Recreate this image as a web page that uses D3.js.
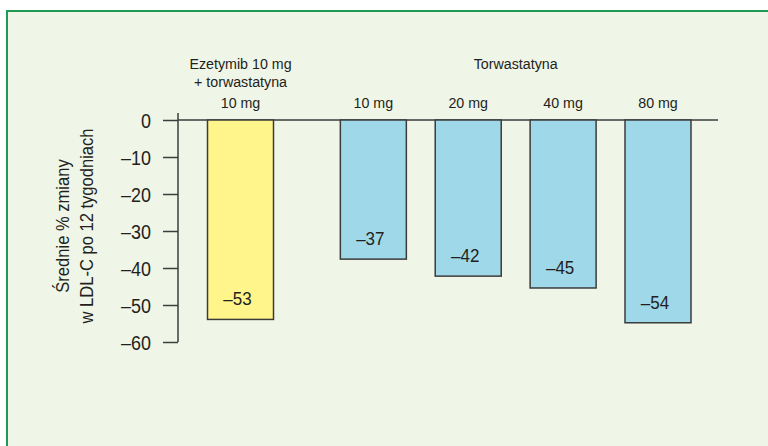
<!DOCTYPE html>
<html>
  <head>
    <meta charset="utf-8" />
    <title>LDL-C</title>
    <style>
      body {
        margin: 0;
        background: #fff;
      }
      svg text {
        font-family: "Liberation Sans", Arial, sans-serif;
        fill: #231f20;
      }
    </style>
    <script src="https://d3js.org/d3.v7.min.js"></script>
  </head>
  <body>
    <div id="chart"></div>
    <script>
      // data
      var doses = ["10 mg", "10 mg", "20 mg", "40 mg", "80 mg"];
      var groups = ["combo", "statin", "statin", "statin", "statin"];
      var values = [-53.9, -37.6, -42.2, -45.4, -54.8];
      var valueLabels = ["–53", "–37", "–42", "–45", "–54"];
      var yTicks = [0, -10, -20, -30, -40, -50, -60];
      var comboLabel = ["Ezetymib 10 mg", "+ torwastatyna"];
      var statinLabel = "Torwastatyna";
      var yTitle = ["Średnie % zmiany", "w LDL-C po 12 tygodniach"];

      var width = 768, height = 446;
      var K = 0.92; // squeeze text to look like a condensed face

      var svg = d3.select("#chart").append("svg")
        .attr("width", width)
        .attr("height", height);

      // helper: text at x,y, horizontally squeezed
      function label(x, y, str, size, rot) {
        return svg.append("text")
          .attr("transform", "translate(" + x + "," + y + ")" + (rot ? " rotate(" + rot + ")" : "") + " scale(" + K + ",1)")
          .attr("text-anchor", "middle")
          .attr("font-size", size)
          .text(str);
      }

      // panel
      svg.append("rect")
        .attr("x", 7).attr("y", 11)
        .attr("width", width + 10).attr("height", height + 10)
        .attr("fill", "#eff5e7")
        .attr("stroke", "#1f9a55")
        .attr("stroke-width", 2);

      var y = d3.scaleLinear().domain([-60, 0]).range([342, 120]);

      // slot index, statin group pushed right a bit
      var slot = values.map(function(d, i) { return i + (i > 0 ? 0.4 : 0); });
      var x = d3.scaleLinear().domain([0, 4.4]).range([240.5, 658]);
      var barW = 66;

      // y axis
      var axis = svg.append("g")
        .attr("transform", "translate(178,0)")
        .call(d3.axisLeft(y).tickValues(yTicks).tickSize(15).tickPadding(12)
          .tickFormat(function(d) { return d === 0 ? "0" : "–" + Math.abs(d); }));
      axis.select(".domain")
        .attr("d", "M0,113V342")
        .attr("stroke", "#3c3c3c").attr("stroke-width", 1.5);
      axis.selectAll(".tick line").attr("stroke", "#3c3c3c").attr("stroke-width", 1.5);
      axis.selectAll(".tick text")
        .attr("x", null)
        .attr("transform", "translate(-27,0) scale(" + K + ",1)")
        .attr("dy", "0.36em")
        .attr("font-size", 19.5)
        .style("font-family", "'Liberation Sans', Arial, sans-serif")
        .attr("fill", "#231f20");

      // zero line
      svg.append("line")
        .attr("x1", 178).attr("x2", 718)
        .attr("y1", y(0)).attr("y2", y(0))
        .attr("stroke", "#3c3c3c").attr("stroke-width", 1.5);

      // bars
      svg.selectAll("rect.bar")
        .data(values)
        .enter().append("rect")
        .attr("class", "bar")
        .attr("x", function(d, i) { return x(slot[i]) - barW / 2; })
        .attr("y", y(0))
        .attr("width", barW)
        .attr("height", function(d) { return y(d) - y(0); })
        .attr("fill", function(d, i) { return groups[i] === "combo" ? "#fff58a" : "#9fd8e8"; })
        .attr("stroke", "#3c3c3c")
        .attr("stroke-width", 1.5);

      // value labels
      values.forEach(function(d, i) {
        label(x(slot[i]) - 3, y(d) - 14, valueLabels[i], 18.5);
      });

      // dose labels
      doses.forEach(function(d, i) {
        label(x(slot[i]), 108, d, 15.5);
      });

      // group labels
      label(x(0), 69, comboLabel[0], 15.5);
      label(x(0), 87, comboLabel[1], 15.5);
      label((x(1.4) + x(4.4)) / 2, 69, statinLabel, 15.5);

      // y title
      label(69, 226, yTitle[0], 18, -90);
      label(93, 226, yTitle[1], 18, -90);
    </script>
  </body>
</html>
